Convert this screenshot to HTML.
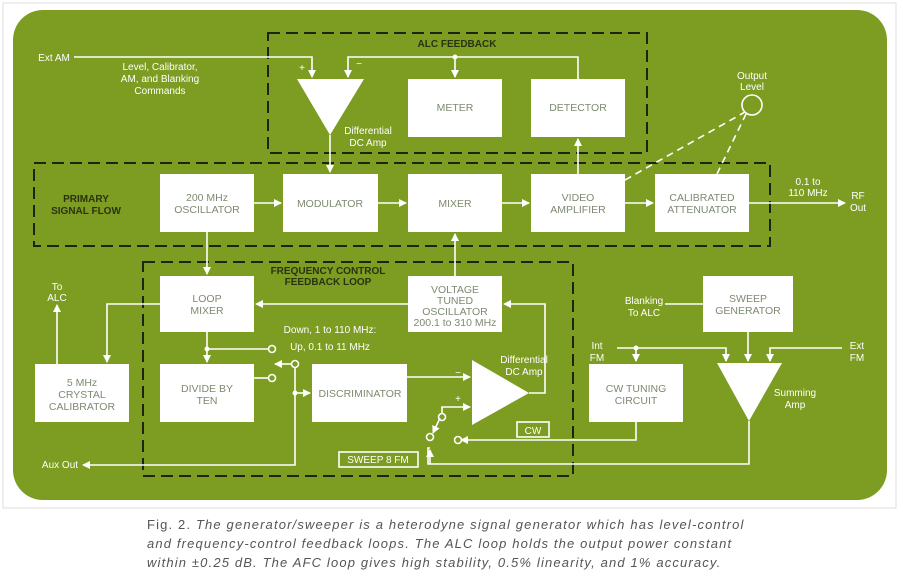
<!DOCTYPE html>
<html><head><meta charset="utf-8"><style>
body{margin:0;background:#fff;width:903px;height:583px;overflow:hidden}
svg{display:block}
.w{fill:#fff}
.t{font-family:"Liberation Sans",sans-serif;font-size:10px;fill:#fff;text-anchor:middle}
.b{font-family:"Liberation Sans",sans-serif;font-size:10.5px;fill:#7d8a70;text-anchor:middle}
.k{font-family:"Liberation Sans",sans-serif;font-size:10px;font-weight:bold;fill:#2a3310;text-anchor:middle}
.l{stroke:#fff;stroke-width:1.6;fill:none}
.d{stroke:#1e2410;stroke-width:2;fill:none;stroke-dasharray:12,6}
.cap{font-family:"Liberation Sans",sans-serif;font-size:13px;letter-spacing:1.15px;fill:#555;font-style:italic}
</style></head><body>
<svg width="903" height="583" viewBox="0 0 903 583">
<defs><marker id="a" markerWidth="8" markerHeight="8" refX="7" refY="4" orient="auto" markerUnits="userSpaceOnUse"><path d="M0,0 L8,4 L0,8 z" fill="#fff"/></marker></defs>
<rect x="3" y="3" width="893" height="505" fill="none" stroke="#ddd"/>
<rect x="13" y="10" width="874" height="490" rx="30" fill="#7d9c22"/>
<rect class="d" x="268" y="33" width="379" height="120"/>
<rect class="d" x="34" y="163" width="736" height="83"/>
<rect class="d" x="143" y="262" width="430" height="214"/>
<text class="k" x="457" y="47">ALC FEEDBACK</text>
<text class="k" x="86" y="202">PRIMARY</text><text class="k" x="86" y="214">SIGNAL FLOW</text>
<text class="k" x="328" y="274">FREQUENCY CONTROL</text><text class="k" x="328" y="285">FEEDBACK LOOP</text>
<g class="w">
<rect x="160" y="174" width="94" height="58"/><rect x="283" y="174" width="95" height="58"/>
<rect x="408" y="174" width="94" height="58"/><rect x="531" y="174" width="94" height="58"/>
<rect x="655" y="174" width="94" height="58"/><rect x="408" y="79" width="94" height="58"/>
<rect x="531" y="79" width="94" height="58"/><rect x="160" y="276" width="94" height="56"/>
<rect x="160" y="364" width="94" height="58"/><rect x="35" y="364" width="94" height="58"/>
<rect x="312" y="364" width="95" height="58"/><rect x="408" y="276" width="94" height="56"/>
<rect x="589" y="364" width="94" height="58"/><rect x="703" y="276" width="90" height="56"/>
<polygon points="297,79 364,79 330,135"/>
<polygon points="472,360 472,425 529,393"/>
<polygon points="717,363 782,363 749,421"/>
</g>
<g class="b">
<text x="207" y="201">200 MHz</text><text x="207" y="213">OSCILLATOR</text>
<text x="330" y="207">MODULATOR</text><text x="455" y="207">MIXER</text>
<text x="578" y="201">VIDEO</text><text x="578" y="213">AMPLIFIER</text>
<text x="702" y="201">CALIBRATED</text><text x="702" y="213">ATTENUATOR</text>
<text x="455" y="111">METER</text><text x="578" y="111">DETECTOR</text>
<text x="207" y="302">LOOP</text><text x="207" y="314">MIXER</text>
<text x="207" y="392">DIVIDE BY</text><text x="207" y="404">TEN</text>
<text x="82" y="386">5 MHz</text><text x="82" y="398">CRYSTAL</text><text x="82" y="410">CALIBRATOR</text>
<text x="360" y="397">DISCRIMINATOR</text>
<text x="455" y="293">VOLTAGE</text><text x="455" y="304">TUNED</text><text x="455" y="315">OSCILLATOR</text><text x="455" y="326">200.1 to 310 MHz</text>
<text x="636" y="392">CW TUNING</text><text x="636" y="404">CIRCUIT</text>
<text x="748" y="302">SWEEP</text><text x="748" y="314">GENERATOR</text>
</g>
<g class="t">
<text x="54" y="61">Ext AM</text>
<text x="160" y="70">Level, Calibrator,</text><text x="160" y="82">AM, and Blanking</text><text x="160" y="94">Commands</text>
<text x="302" y="71">+</text><text x="359" y="67">−</text>
<text x="368" y="134">Differential</text><text x="368" y="146">DC Amp</text>
<text x="752" y="79">Output</text><text x="752" y="90">Level</text>
<text x="808" y="185">0.1 to</text><text x="808" y="196">110 MHz</text>
<text x="858" y="199">RF</text><text x="858" y="211">Out</text>
<text x="57" y="290">To</text><text x="57" y="301">ALC</text>
<text x="330" y="333">Down, 1 to 110 MHz:</text><text x="330" y="350">Up, 0.1 to 11 MHz</text>
<text x="524" y="363">Differential</text><text x="524" y="375">DC Amp</text>
<text x="458" y="376">−</text><text x="458" y="402">+</text>
<text x="644" y="304">Blanking</text><text x="644" y="316">To ALC</text>
<text x="597" y="349">Int</text><text x="597" y="361">FM</text>
<text x="857" y="349">Ext</text><text x="857" y="361">FM</text>
<text x="795" y="396">Summing</text><text x="795" y="408">Amp</text>
<text x="60" y="468">Aux Out</text>
<text x="533" y="434">CW</text><text x="378" y="463">SWEEP 8 FM</text>
</g>
<rect x="517" y="422" width="32" height="15" class="l" stroke-width="1.2"/>
<rect x="339" y="452" width="79" height="15" class="l" stroke-width="1.2"/>
<g class="l">
<path d="M74,57 H312 V77" marker-end="url(#a)"/>
<path d="M578,79 V57 H348 V77" marker-end="url(#a)"/>
<path d="M455,57 V77" marker-end="url(#a)"/>
<path d="M330,135 V172" marker-end="url(#a)"/>
<path d="M254,203 H281" marker-end="url(#a)"/>
<path d="M378,203 H406" marker-end="url(#a)"/>
<path d="M502,203 H529" marker-end="url(#a)"/>
<path d="M625,203 H653" marker-end="url(#a)"/>
<path d="M749,203 H845" marker-end="url(#a)"/>
<path d="M578,174 V139" marker-end="url(#a)"/>
<path d="M455,276 V234" marker-end="url(#a)"/>
<path d="M207,232 V274" marker-end="url(#a)"/>
<path d="M408,304 H256" marker-end="url(#a)"/>
<path d="M529,393 H545 V304 H504" marker-end="url(#a)"/>
<path d="M160,304 H107 V362" marker-end="url(#a)"/>
<path d="M57,364 V305" marker-end="url(#a)"/>
<path d="M207,332 V362" marker-end="url(#a)"/>
<path d="M207,349 H268"/><path d="M254,378 H268"/>
<path d="M291,364 H275" marker-end="url(#a)"/>
<path d="M295,368 V465 H83" marker-end="url(#a)"/>
<path d="M295,393 H310" marker-end="url(#a)"/>
<path d="M407,377 H470" marker-end="url(#a)"/>
<path d="M442,414 V407 H470" marker-end="url(#a)"/>
<path d="M440,418 L433,433" marker-end="url(#a)"/>
<path d="M749,421 V464 H428 V448 H430" /><path d="M430,464 V450" marker-end="url(#a)"/>
<path d="M636,422 V440 H461" marker-end="url(#a)"/>
<path d="M748,332 V361" marker-end="url(#a)"/>
<path d="M665,304 H703"/>
<path d="M617,348 H726 V361" marker-end="url(#a)"/>
<path d="M636,348 V361" marker-end="url(#a)"/>
<path d="M842,348 H770 V361" marker-end="url(#a)"/>
<circle cx="752" cy="105" r="10"/>
<circle cx="272" cy="349" r="3.5"/><circle cx="272" cy="378" r="3.5"/><circle cx="295" cy="364" r="3.5"/>
<circle cx="442" cy="417" r="3.5"/><circle cx="430" cy="437" r="3.5"/><circle cx="458" cy="440" r="3.5"/>
<path d="M625,180 L745,112" stroke-dasharray="7,5"/>
<path d="M717,174 L746,114" stroke-dasharray="7,5"/>
</g>
<g class="w"><circle cx="455" cy="57" r="2.5"/><circle cx="207" cy="349" r="2.5"/><circle cx="295" cy="393" r="2.5"/><circle cx="636" cy="348" r="2.5"/></g>
<text class="cap" x="147" y="529"><tspan font-style="normal">Fig. 2.</tspan> The generator/sweeper is a heterodyne signal generator which has level-control</text>
<text class="cap" x="147" y="548">and frequency-control feedback loops. The ALC loop holds the output power constant</text>
<text class="cap" x="147" y="567">within ±0.25 dB. The AFC loop gives high stability, 0.5% linearity, and 1% accuracy.</text>
</svg>
</body></html>
